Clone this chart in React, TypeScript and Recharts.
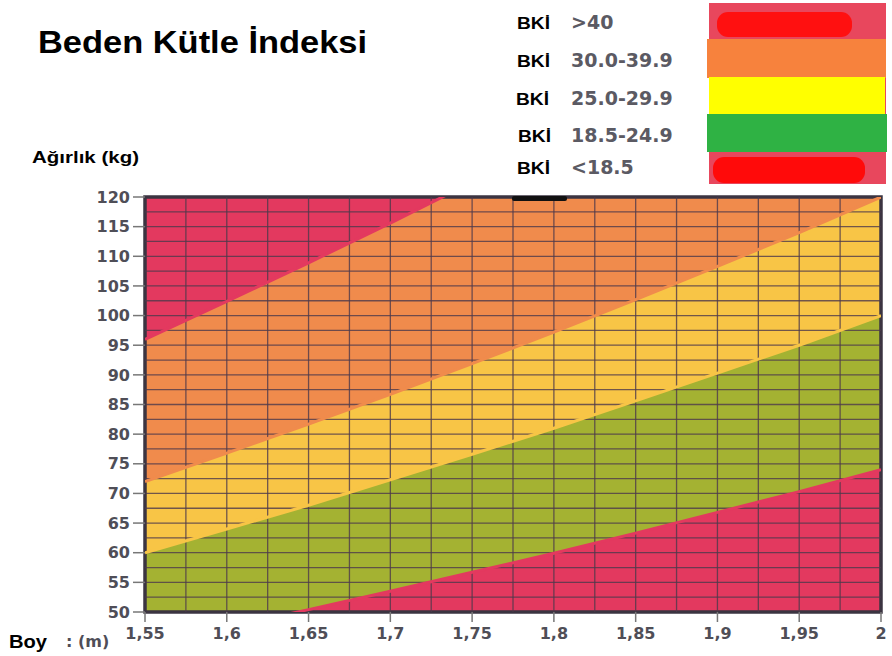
import { ComposedChart, Area, Line, XAxis, YAxis, ReferenceLine, ReferenceArea } from "recharts"

// Boy (m) at each x tick, and the weight (kg) where each BKİ band boundary crosses it
const heights = [1.55, 1.6, 1.65, 1.7, 1.75, 1.8, 1.85, 1.9, 1.95, 2]
const limit185 = [44.4, 47.4, 50.4, 53.5, 56.7, 59.9, 63.3, 66.8, 70.3, 74]
const limit25 = [60, 64, 68, 72.3, 76.6, 81, 85.6, 90.3, 95, 100]
const limit30 = [72, 76.8, 81.7, 86.7, 91.9, 97.2, 102.7, 108.3, 114, 120]
const limit40 = [96, 102.4, 108.9, 115.6, 122.5, 129.6, 136.9, 144.4, 152.1, 160]

const xTicks = [1.55, 1.6, 1.65, 1.7, 1.75, 1.8, 1.85, 1.9, 1.95, 2]
const yTicks = [50, 55, 60, 65, 70, 75, 80, 85, 90, 95, 100, 105, 110, 115, 120]
const gridX = [1.575, 1.6, 1.625, 1.65, 1.675, 1.7, 1.725, 1.75, 1.775, 1.8, 1.825, 1.85, 1.875, 1.9, 1.925, 1.95, 1.975]
const gridY = [52.5, 55, 57.5, 60, 62.5, 65, 67.5, 70, 72.5, 75, 77.5, 80, 82.5, 85, 87.5, 90, 92.5, 95, 97.5, 100, 102.5, 105, 107.5, 110, 112.5, 115, 117.5]

const legendRanges = [">40", "30.0-39.9", "25.0-29.9", "18.5-24.9", "<18.5"]

const Y_MIN = 50
const Y_MAX = 120

const data = heights.map((h, i) => ({
  h,
  b185: limit185[i],
  b25: limit25[i],
  b30: limit30[i],
  b40: limit40[i],
  under: [Y_MIN, limit185[i]],
  normal: [limit185[i], limit25[i]],
  over: [limit25[i], limit30[i]],
  obese: [limit30[i], limit40[i]],
  morbid: [limit40[i], Y_MAX],
}))

const PINK = "#e3395f"
const ORANGE = "#f08b4c"
const YELLOW = "#f8c546"
const GREEN = "#a4b232"
const GRID = "#4d3a4b"
const TICK_TEXT = "#4f4e57"

const tickFont = { fontFamily: "DejaVu Sans", fontWeight: 700, fontSize: 16, fill: TICK_TEXT }

const fmtX = (v: number) => String(v).replace(".", ",")

function Overlay() {
  const rowsY = [29, 67, 105, 142, 174]
  const bkiX = [517, 517, 516, 518, 517]
  return (
    <svg
      width={892}
      height={656}
      style={{ position: "absolute", left: 0, top: 0, pointerEvents: "none" }}
    >
      <text x={38} y={53} fontFamily="Liberation Sans" fontWeight={700} fontSize={32} fill="#000"
        textLength={329} lengthAdjust="spacingAndGlyphs">
        Beden Kütle İndeksi
      </text>
      <text x={32} y={163} fontFamily="Liberation Sans" fontWeight={700} fontSize={16} fill="#000"
        textLength={107} lengthAdjust="spacingAndGlyphs">
        Ağırlık (kg)
      </text>
      <text x={9} y={648} fontFamily="Liberation Sans" fontWeight={700} fontSize={18} fill="#000"
        textLength={38} lengthAdjust="spacingAndGlyphs">
        Boy
      </text>
      <text x={66} y={647} fontFamily="DejaVu Sans" fontWeight={700} fontSize={16} fill={TICK_TEXT}>
        : (m)
      </text>

      {legendRanges.map((r, i) => (
        <g key={r}>
          <text x={bkiX[i]} y={rowsY[i]} fontFamily="Liberation Sans" fontWeight={700} fontSize={17} fill="#000"
            textLength={33} lengthAdjust="spacingAndGlyphs">
            BKİ
          </text>
          <text x={571} y={rowsY[i]} fontFamily="DejaVu Sans" fontWeight={700} fontSize={19} fill="#5b5a63">
            {r}
          </text>
        </g>
      ))}

      <rect x={709} y={3} width={177} height={181} fill="#e8475d" />
      <rect x={717} y={12} width={135} height={25} rx={11} fill="#ff1010" />
      <rect x={707} y={39} width={179} height={39} fill="#f7823d" />
      <rect x={709} y={77} width={176} height={37} fill="#ffff00" />
      <rect x={707} y={114} width={180} height={38} fill="#2fb244" />
      <rect x={713} y={157} width={152} height={26} rx={11} fill="#ff0a0a" />

      <rect x={512} y={196} width={55} height={5} rx={2} fill="#111" />
    </svg>
  )
}

export default function App() {
  return (
    <div style={{ position: "absolute", left: 0, top: 0, width: 892, height: 656, background: "#fff" }}>
      <ComposedChart
        width={892}
        height={656}
        data={data}
        margin={{ top: 197, right: 11, bottom: 14, left: 85 }}
      >
        <XAxis
          dataKey="h"
          type="number"
          domain={[1.55, 2]}
          ticks={xTicks}
          allowDataOverflow
          tickFormatter={fmtX}
          tick={tickFont}
          tickSize={10}
          tickMargin={6}
          height={30}
          axisLine={false}
          tickLine={{ stroke: "#777", strokeWidth: 1.5 }}
        />
        <YAxis
          type="number"
          domain={[Y_MIN, Y_MAX]}
          ticks={yTicks}
          allowDataOverflow
          tick={tickFont}
          tickSize={12}
          tickMargin={3}
          width={60}
          axisLine={false}
          tickLine={{ stroke: "#777", strokeWidth: 1.5 }}
        />
        <Area dataKey="under" type="linear" fill={PINK} fillOpacity={1} stroke="none" isAnimationActive={false} />
        <Area dataKey="normal" type="linear" fill={GREEN} fillOpacity={1} stroke="none" isAnimationActive={false} />
        <Area dataKey="over" type="linear" fill={YELLOW} fillOpacity={1} stroke="none" isAnimationActive={false} />
        <Area dataKey="obese" type="linear" fill={ORANGE} fillOpacity={1} stroke="none" isAnimationActive={false} />
        <Area dataKey="morbid" type="linear" fill={PINK} fillOpacity={1} stroke="none" isAnimationActive={false} />
        {gridX.map((v) => (
          <ReferenceLine key={"x" + v} x={v} stroke={GRID} strokeWidth={1.3} strokeOpacity={0.8} />
        ))}
        {gridY.map((v) => (
          <ReferenceLine key={"y" + v} y={v} stroke={GRID} strokeWidth={1.3} strokeOpacity={0.8} />
        ))}
        {/* soft seams along the band edges, where the printed grid breaks */}
        <Line dataKey="b185" type="linear" stroke={PINK} strokeWidth={3} dot={false} isAnimationActive={false} />
        <Line dataKey="b25" type="linear" stroke={YELLOW} strokeWidth={3} dot={false} isAnimationActive={false} />
        <Line dataKey="b30" type="linear" stroke={ORANGE} strokeWidth={3} dot={false} isAnimationActive={false} />
        <Line dataKey="b40" type="linear" stroke={PINK} strokeWidth={3} dot={false} isAnimationActive={false} />
        <ReferenceArea x1={1.55} x2={2} y1={Y_MIN} y2={Y_MAX} fill="none" stroke="#3b3441" strokeWidth={3.5} />
      </ComposedChart>
      <Overlay />
    </div>
  )
}
